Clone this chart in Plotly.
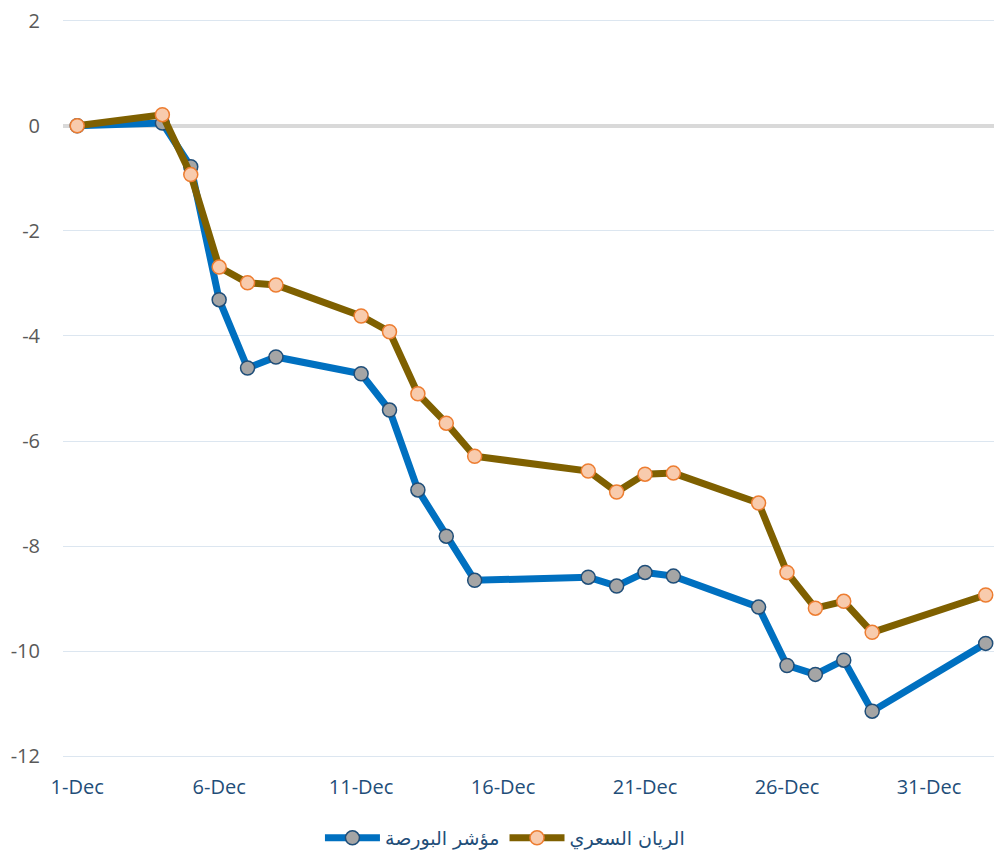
import plotly.graph_objects as go
import pandas as pd

dates = ["2022-12-01", "2022-12-04", "2022-12-05", "2022-12-06", "2022-12-07", "2022-12-08",
         "2022-12-11", "2022-12-12", "2022-12-13", "2022-12-14", "2022-12-15",
         "2022-12-19", "2022-12-20", "2022-12-21", "2022-12-22",
         "2022-12-25", "2022-12-26", "2022-12-27", "2022-12-28", "2022-12-29", "2023-01-02"]

index_values = [0.0, 0.05, -0.78, -3.31, -4.61, -4.40, -4.72, -5.41, -6.93, -7.81, -8.65,
                -8.59, -8.76, -8.50, -8.57, -9.16, -10.27, -10.44, -10.17, -11.14, -9.85]

rayan_values = [0.0, 0.21, -0.93, -2.69, -2.99, -3.03, -3.62, -3.92, -5.10, -5.66, -6.29,
                -6.57, -6.97, -6.63, -6.61, -7.18, -8.50, -9.18, -9.05, -9.64, -8.93]

index_name = "مؤشر البورصة"
rayan_name = "الريان السعري"

tick_dates = ["2022-12-01", "2022-12-06", "2022-12-11", "2022-12-16", "2022-12-21", "2022-12-26", "2022-12-31"]
tick_labels = ["1-Dec", "6-Dec", "11-Dec", "16-Dec", "21-Dec", "26-Dec", "31-Dec"]
y_ticks = [2, 0, -2, -4, -6, -8, -10, -12]
y_labels = ["2", "0", "-2", "-4", "-6", "-8", "-10", "-12"]

fig = go.Figure()
fig.add_trace(go.Scatter(
    x=dates, y=index_values, name=index_name, mode="lines+markers",
    line=dict(color="#0070c0", width=7),
    marker=dict(size=14, color="#a5a5a5", line=dict(color="#1f4e79", width=1.5)),
))
fig.add_trace(go.Scatter(
    x=dates, y=rayan_values, name=rayan_name, mode="lines+markers",
    line=dict(color="#7f6000", width=7),
    marker=dict(size=14, color="#f8cbad", line=dict(color="#ed7d31", width=1.5)),
))

start = pd.Timestamp("2022-12-01") - pd.Timedelta(hours=12)
end = pd.Timestamp("2023-01-02") + pd.Timedelta(hours=7)

fig.update_layout(
    width=994, height=853,
    paper_bgcolor="white", plot_bgcolor="white",
    margin=dict(l=63, r=0, t=18, b=94, autoexpand=False),
    font=dict(family="Open Sans, Liberation Sans, sans-serif", size=20, color="#595959"),
    showlegend=True,
    legend=dict(orientation="h", x=0.508, xanchor="center", xref="container",
                y=0.0176, yanchor="middle", yref="container",
                font=dict(size=19, color="#1f4e79", family="DejaVu Sans, Noto Sans, sans-serif"),
                itemwidth=55, traceorder="normal"),
    xaxis=dict(type="date", range=[start, end], tickvals=tick_dates, ticktext=tick_labels,
               showgrid=False, zeroline=False, showline=False, ticks="",
               tickfont=dict(color="#1f4e79", size=20), ticklabelstandoff=14),
    yaxis=dict(range=[-12.05, 2.05], tickvals=y_ticks, ticktext=y_labels, showgrid=True,
               gridcolor="#dce6f0", gridwidth=1.2, zeroline=True, zerolinecolor="#d9d9d9",
               zerolinewidth=3.5, ticks="", showline=False,
               tickfont=dict(color="#595959", size=20), ticklabelstandoff=22),
)

fig.write_html("out.html", config={"displayModeBar": False},
               post_script="document.body.style.margin='0';")
